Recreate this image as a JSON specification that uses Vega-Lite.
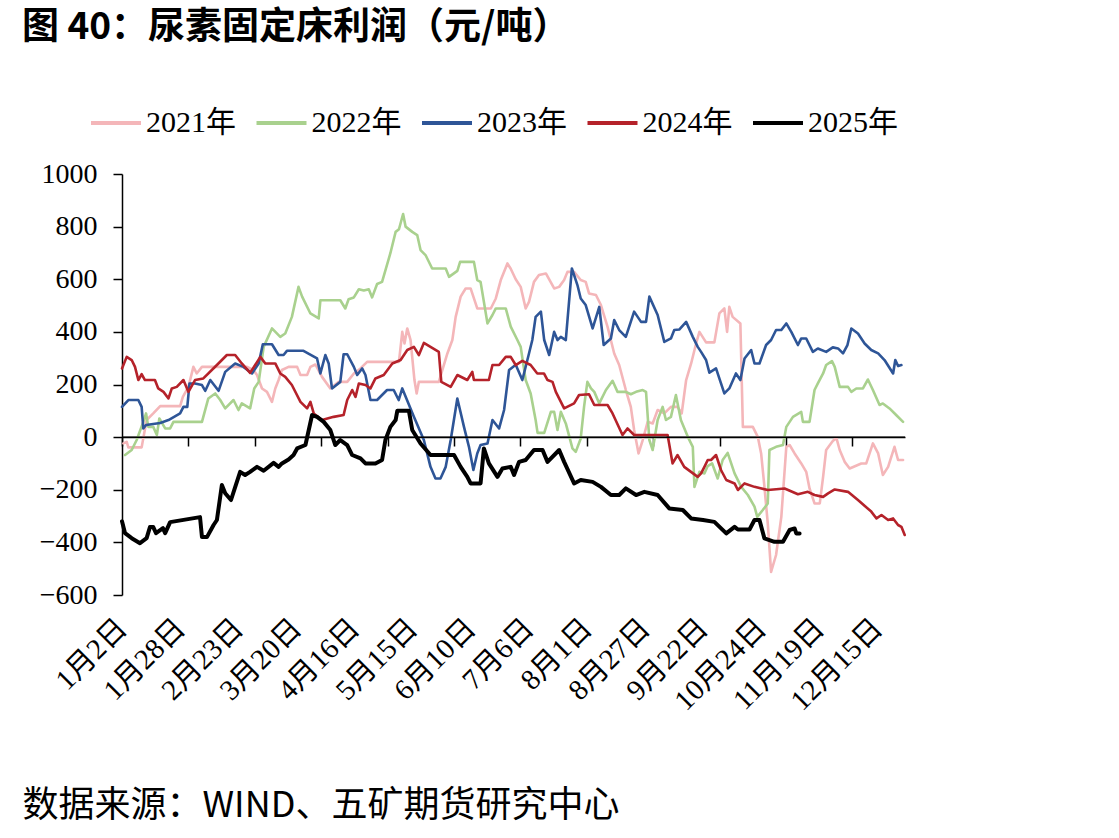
{
"$schema": "https://vega.github.io/schema/vega-lite/v6.json",
"autosize": {"type": "none"},
"width": 783, "height": 421,
"padding": {"left": 122, "top": 174, "right": 214, "bottom": 243},
"background": "white",
"title": {"text": "图 40：尿素固定床利润（元/吨）", "anchor": "start", "frame": "group", "font": "Noto Sans CJK SC", "fontSize": 37, "fontWeight": "bold", "color": "black", "dx": -100, "offset": 20, "baseline": "alphabetic"},
"datasets": {
"d": [
{"s":"2021年","d":0.5,"v":-24},{"s":"2021年","d":1.7,"v":-18},{"s":"2021年","d":2.3,"v":-39},{"s":"2021年","d":7.1,"v":-39},{"s":"2021年","d":8.9,"v":65},{"s":"2021年","d":11.3,"v":90},{"s":"2021年","d":13.8,"v":118},{"s":"2021年","d":21.0,"v":118},{"s":"2021年","d":22.0,"v":153},{"s":"2021年","d":24.0,"v":191},{"s":"2021年","d":25.8,"v":267},{"s":"2021年","d":27.0,"v":242},{"s":"2021年","d":28.9,"v":267},{"s":"2021年","d":45.2,"v":267},{"s":"2021年","d":47.5,"v":255},{"s":"2021年","d":48.8,"v":236},{"s":"2021年","d":50.6,"v":185},{"s":"2021年","d":52.4,"v":172},{"s":"2021年","d":54.2,"v":134},{"s":"2021年","d":55.4,"v":185},{"s":"2021年","d":56.6,"v":217},{"s":"2021年","d":57.8,"v":255},{"s":"2021年","d":60.2,"v":267},{"s":"2021年","d":63.3,"v":267},{"s":"2021年","d":64.5,"v":236},{"s":"2021年","d":66.9,"v":236},{"s":"2021年","d":68.1,"v":267},{"s":"2021年","d":69.9,"v":276},{"s":"2021年","d":72.3,"v":229},{"s":"2021年","d":75.3,"v":185},{"s":"2021年","d":78.3,"v":210},{"s":"2021年","d":81.4,"v":210},{"s":"2021年","d":83.8,"v":242},{"s":"2021年","d":86.2,"v":261},{"s":"2021年","d":88.6,"v":286},{"s":"2021年","d":100.1,"v":286},{"s":"2021年","d":101.3,"v":400},{"s":"2021年","d":102.1,"v":356},{"s":"2021年","d":103.1,"v":413},{"s":"2021年","d":104.3,"v":369},{"s":"2021年","d":105.7,"v":217},{"s":"2021年","d":106.5,"v":166},{"s":"2021年","d":107.3,"v":210},{"s":"2021年","d":114.5,"v":210},{"s":"2021年","d":117.6,"v":318},{"s":"2021年","d":119.4,"v":369},{"s":"2021年","d":120.6,"v":457},{"s":"2021年","d":122.4,"v":534},{"s":"2021年","d":124.2,"v":565},{"s":"2021年","d":126.0,"v":565},{"s":"2021年","d":128.4,"v":489},{"s":"2021年","d":133.3,"v":489},{"s":"2021年","d":135.1,"v":527},{"s":"2021年","d":136.9,"v":597},{"s":"2021年","d":139.3,"v":660},{"s":"2021年","d":140.5,"v":640},{"s":"2021年","d":142.3,"v":600},{"s":"2021年","d":144.1,"v":571},{"s":"2021年","d":145.9,"v":489},{"s":"2021年","d":147.1,"v":514},{"s":"2021年","d":148.9,"v":590},{"s":"2021年","d":150.7,"v":616},{"s":"2021年","d":153.2,"v":622},{"s":"2021年","d":156.2,"v":565},{"s":"2021年","d":158.0,"v":571},{"s":"2021年","d":159.8,"v":597},{"s":"2021年","d":161.0,"v":628},{"s":"2021年","d":163.4,"v":628},{"s":"2021年","d":165.8,"v":597},{"s":"2021年","d":167.6,"v":590},{"s":"2021年","d":168.8,"v":546},{"s":"2021年","d":171.3,"v":540},{"s":"2021年","d":173.1,"v":502},{"s":"2021年","d":175.5,"v":419},{"s":"2021年","d":177.9,"v":318},{"s":"2021年","d":179.7,"v":274},{"s":"2021年","d":182.1,"v":179},{"s":"2021年","d":183.9,"v":115},{"s":"2021年","d":185.1,"v":27},{"s":"2021年","d":186.7,"v":-62},{"s":"2021年","d":188.2,"v":-11},{"s":"2021年","d":190.0,"v":58},{"s":"2021年","d":191.8,"v":52},{"s":"2021年","d":193.6,"v":103},{"s":"2021年","d":196.0,"v":90},{"s":"2021年","d":198.4,"v":115},{"s":"2021年","d":200.8,"v":115},{"s":"2021年","d":202.3,"v":90},{"s":"2021年","d":203.9,"v":217},{"s":"2021年","d":205.7,"v":280},{"s":"2021年","d":207.5,"v":356},{"s":"2021年","d":208.7,"v":400},{"s":"2021年","d":211.1,"v":360},{"s":"2021年","d":214.1,"v":360},{"s":"2021年","d":215.9,"v":470},{"s":"2021年","d":217.7,"v":489},{"s":"2021年","d":218.7,"v":400},{"s":"2021年","d":219.5,"v":495},{"s":"2021年","d":220.7,"v":457},{"s":"2021年","d":223.5,"v":432},{"s":"2021年","d":224.4,"v":39},{"s":"2021年","d":228.0,"v":39},{"s":"2021年","d":229.8,"v":1},{"s":"2021年","d":231.0,"v":-62},{"s":"2021年","d":232.2,"v":-189},{"s":"2021年","d":233.4,"v":-328},{"s":"2021年","d":234.6,"v":-512},{"s":"2021年","d":236.4,"v":-448},{"s":"2021年","d":238.3,"v":-303},{"s":"2021年","d":240.1,"v":-37},{"s":"2021年","d":241.3,"v":-30},{"s":"2021年","d":243.1,"v":-62},{"s":"2021年","d":245.5,"v":-100},{"s":"2021年","d":247.3,"v":-132},{"s":"2021年","d":248.5,"v":-195},{"s":"2021年","d":250.3,"v":-252},{"s":"2021年","d":252.2,"v":-252},{"s":"2021年","d":253.4,"v":-151},{"s":"2021年","d":254.5,"v":-49},{"s":"2021年","d":256.9,"v":-15},{"s":"2021年","d":258.2,"v":-3},{"s":"2021年","d":259.4,"v":-49},{"s":"2021年","d":261.2,"v":-94},{"s":"2021年","d":263.0,"v":-119},{"s":"2021年","d":267.2,"v":-100},{"s":"2021年","d":269.0,"v":-100},{"s":"2021年","d":271.4,"v":-24},{"s":"2021年","d":273.3,"v":-62},{"s":"2021年","d":275.0,"v":-144},{"s":"2021年","d":276.9,"v":-113},{"s":"2021年","d":279.2,"v":-37},{"s":"2021年","d":280.5,"v":-87},{"s":"2021年","d":282.3,"v":-87},
{"s":"2022年","d":1.1,"v":-68},{"s":"2022年","d":3.5,"v":-49},{"s":"2022年","d":5.3,"v":-11},{"s":"2022年","d":7.7,"v":58},{"s":"2022年","d":8.7,"v":90},{"s":"2022年","d":9.5,"v":39},{"s":"2022年","d":11.3,"v":39},{"s":"2022年","d":12.6,"v":8},{"s":"2022年","d":13.5,"v":71},{"s":"2022年","d":15.6,"v":33},{"s":"2022年","d":17.4,"v":33},{"s":"2022年","d":18.6,"v":58},{"s":"2022年","d":28.9,"v":58},{"s":"2022年","d":31.2,"v":147},{"s":"2022年","d":33.7,"v":166},{"s":"2022年","d":35.5,"v":141},{"s":"2022年","d":37.3,"v":109},{"s":"2022年","d":40.3,"v":141},{"s":"2022年","d":42.1,"v":103},{"s":"2022年","d":43.3,"v":128},{"s":"2022年","d":46.3,"v":109},{"s":"2022年","d":47.8,"v":185},{"s":"2022年","d":49.4,"v":210},{"s":"2022年","d":51.2,"v":343},{"s":"2022年","d":54.2,"v":413},{"s":"2022年","d":57.2,"v":381},{"s":"2022年","d":59.0,"v":394},{"s":"2022年","d":61.4,"v":457},{"s":"2022年","d":63.8,"v":571},{"s":"2022年","d":65.1,"v":534},{"s":"2022年","d":68.1,"v":470},{"s":"2022年","d":71.1,"v":451},{"s":"2022年","d":71.7,"v":520},{"s":"2022年","d":78.9,"v":520},{"s":"2022年","d":80.7,"v":489},{"s":"2022年","d":81.9,"v":524},{"s":"2022年","d":83.8,"v":531},{"s":"2022年","d":85.6,"v":562},{"s":"2022年","d":87.4,"v":557},{"s":"2022年","d":89.2,"v":562},{"s":"2022年","d":90.4,"v":531},{"s":"2022年","d":92.2,"v":582},{"s":"2022年","d":94.0,"v":590},{"s":"2022年","d":97.0,"v":699},{"s":"2022年","d":98.9,"v":780},{"s":"2022年","d":100.1,"v":790},{"s":"2022年","d":101.6,"v":848},{"s":"2022年","d":102.5,"v":800},{"s":"2022年","d":104.9,"v":780},{"s":"2022年","d":106.7,"v":768},{"s":"2022年","d":107.9,"v":711},{"s":"2022年","d":109.7,"v":692},{"s":"2022年","d":112.1,"v":641},{"s":"2022年","d":117.0,"v":641},{"s":"2022年","d":118.2,"v":609},{"s":"2022年","d":121.2,"v":632},{"s":"2022年","d":122.2,"v":666},{"s":"2022年","d":127.2,"v":666},{"s":"2022年","d":128.4,"v":597},{"s":"2022年","d":129.6,"v":590},{"s":"2022年","d":132.1,"v":432},{"s":"2022年","d":133.9,"v":464},{"s":"2022年","d":135.1,"v":489},{"s":"2022年","d":138.7,"v":489},{"s":"2022年","d":140.5,"v":420},{"s":"2022年","d":142.9,"v":369},{"s":"2022年","d":144.1,"v":343},{"s":"2022年","d":145.9,"v":217},{"s":"2022年","d":147.7,"v":166},{"s":"2022年","d":149.5,"v":65},{"s":"2022年","d":150.2,"v":16},{"s":"2022年","d":152.6,"v":16},{"s":"2022年","d":155.0,"v":96},{"s":"2022年","d":156.2,"v":96},{"s":"2022年","d":157.4,"v":27},{"s":"2022年","d":158.6,"v":96},{"s":"2022年","d":160.4,"v":52},{"s":"2022年","d":162.8,"v":-43},{"s":"2022年","d":164.0,"v":-56},{"s":"2022年","d":165.8,"v":-5},{"s":"2022年","d":167.0,"v":115},{"s":"2022年","d":168.2,"v":210},{"s":"2022年","d":169.5,"v":185},{"s":"2022年","d":170.7,"v":172},{"s":"2022年","d":172.5,"v":128},{"s":"2022年","d":174.9,"v":179},{"s":"2022年","d":177.3,"v":214},{"s":"2022年","d":179.1,"v":172},{"s":"2022年","d":182.1,"v":172},{"s":"2022年","d":183.9,"v":163},{"s":"2022年","d":185.8,"v":172},{"s":"2022年","d":188.2,"v":179},{"s":"2022年","d":189.4,"v":172},{"s":"2022年","d":190.6,"v":-11},{"s":"2022年","d":191.8,"v":-49},{"s":"2022年","d":193.6,"v":65},{"s":"2022年","d":195.4,"v":115},{"s":"2022年","d":196.6,"v":65},{"s":"2022年","d":198.4,"v":77},{"s":"2022年","d":200.2,"v":160},{"s":"2022年","d":202.0,"v":65},{"s":"2022年","d":204.5,"v":1},{"s":"2022年","d":206.3,"v":-37},{"s":"2022年","d":206.9,"v":-189},{"s":"2022年","d":208.7,"v":-132},{"s":"2022年","d":210.5,"v":-138},{"s":"2022年","d":211.7,"v":-110},{"s":"2022年","d":213.3,"v":-100},{"s":"2022年","d":215.3,"v":-157},{"s":"2022年","d":217.1,"v":-87},{"s":"2022年","d":218.9,"v":-60},{"s":"2022年","d":221.4,"v":-138},{"s":"2022年","d":223.8,"v":-189},{"s":"2022年","d":226.2,"v":-220},{"s":"2022年","d":228.6,"v":-264},{"s":"2022年","d":229.6,"v":-303},{"s":"2022年","d":231.6,"v":-277},{"s":"2022年","d":233.4,"v":-252},{"s":"2022年","d":234.0,"v":-49},{"s":"2022年","d":236.4,"v":-37},{"s":"2022年","d":238.9,"v":-30},{"s":"2022年","d":240.1,"v":39},{"s":"2022年","d":241.3,"v":58},{"s":"2022年","d":242.5,"v":77},{"s":"2022年","d":245.5,"v":96},{"s":"2022年","d":246.1,"v":58},{"s":"2022年","d":248.5,"v":58},{"s":"2022年","d":250.3,"v":179},{"s":"2022年","d":251.5,"v":204},{"s":"2022年","d":253.4,"v":242},{"s":"2022年","d":254.5,"v":274},{"s":"2022年","d":256.6,"v":289},{"s":"2022年","d":257.6,"v":267},{"s":"2022年","d":259.4,"v":191},{"s":"2022年","d":262.4,"v":191},{"s":"2022年","d":263.6,"v":172},{"s":"2022年","d":265.4,"v":185},{"s":"2022年","d":267.8,"v":185},{"s":"2022年","d":269.6,"v":219},{"s":"2022年","d":271.4,"v":179},{"s":"2022年","d":273.8,"v":122},{"s":"2022年","d":275.0,"v":128},{"s":"2022年","d":277.4,"v":109},{"s":"2022年","d":279.8,"v":84},{"s":"2022年","d":282.3,"v":58},
{"s":"2023年","d":0,"v":115},{"s":"2023年","d":2.3,"v":141},{"s":"2023年","d":5.9,"v":141},{"s":"2023年","d":7.1,"v":115},{"s":"2023年","d":7.7,"v":33},{"s":"2023年","d":8.7,"v":46},{"s":"2023年","d":13.8,"v":54},{"s":"2023年","d":16.8,"v":65},{"s":"2023年","d":21.0,"v":90},{"s":"2023年","d":22.2,"v":115},{"s":"2023年","d":23.6,"v":115},{"s":"2023年","d":24.4,"v":204},{"s":"2023年","d":26.4,"v":204},{"s":"2023年","d":28.9,"v":198},{"s":"2023年","d":30.1,"v":176},{"s":"2023年","d":31.9,"v":217},{"s":"2023年","d":34.9,"v":176},{"s":"2023年","d":37.3,"v":248},{"s":"2023年","d":40.9,"v":280},{"s":"2023年","d":43.9,"v":267},{"s":"2023年","d":47.0,"v":242},{"s":"2023年","d":49.4,"v":280},{"s":"2023年","d":50.9,"v":353},{"s":"2023年","d":54.2,"v":353},{"s":"2023年","d":56.6,"v":312},{"s":"2023年","d":58.4,"v":312},{"s":"2023年","d":59.6,"v":328},{"s":"2023年","d":65.6,"v":328},{"s":"2023年","d":68.7,"v":310},{"s":"2023年","d":70.5,"v":299},{"s":"2023年","d":71.7,"v":242},{"s":"2023年","d":73.5,"v":312},{"s":"2023年","d":74.7,"v":280},{"s":"2023年","d":75.9,"v":185},{"s":"2023年","d":78.9,"v":210},{"s":"2023年","d":80.1,"v":315},{"s":"2023年","d":81.4,"v":315},{"s":"2023年","d":83.8,"v":267},{"s":"2023年","d":85.0,"v":236},{"s":"2023年","d":86.8,"v":261},{"s":"2023年","d":88.0,"v":236},{"s":"2023年","d":89.8,"v":141},{"s":"2023年","d":92.2,"v":141},{"s":"2023年","d":95.8,"v":179},{"s":"2023年","d":98.2,"v":179},{"s":"2023年","d":100.0,"v":141},{"s":"2023年","d":101.3,"v":185},{"s":"2023年","d":105.5,"v":77},{"s":"2023年","d":109.1,"v":-11},{"s":"2023年","d":111.5,"v":-113},{"s":"2023年","d":113.3,"v":-157},{"s":"2023年","d":115.1,"v":-157},{"s":"2023年","d":117.0,"v":-113},{"s":"2023年","d":118.8,"v":-11},{"s":"2023年","d":121.2,"v":147},{"s":"2023年","d":123.6,"v":39},{"s":"2023年","d":125.4,"v":-37},{"s":"2023年","d":127.0,"v":-125},{"s":"2023年","d":128.4,"v":-62},{"s":"2023年","d":129.6,"v":-30},{"s":"2023年","d":132.1,"v":-24},{"s":"2023年","d":133.9,"v":65},{"s":"2023年","d":136.3,"v":33},{"s":"2023年","d":138.1,"v":103},{"s":"2023年","d":139.9,"v":255},{"s":"2023年","d":140.5,"v":260},{"s":"2023年","d":142.3,"v":275},{"s":"2023年","d":144.7,"v":217},{"s":"2023年","d":147.1,"v":318},{"s":"2023年","d":148.3,"v":369},{"s":"2023年","d":149.5,"v":457},{"s":"2023年","d":151.4,"v":477},{"s":"2023年","d":152.6,"v":369},{"s":"2023年","d":154.4,"v":312},{"s":"2023年","d":156.2,"v":400},{"s":"2023年","d":157.4,"v":369},{"s":"2023年","d":158.6,"v":381},{"s":"2023年","d":160.4,"v":369},{"s":"2023年","d":162.6,"v":641},{"s":"2023年","d":164.6,"v":578},{"s":"2023年","d":165.8,"v":527},{"s":"2023年","d":167.6,"v":502},{"s":"2023年","d":170.1,"v":413},{"s":"2023年","d":172.5,"v":495},{"s":"2023年","d":174.1,"v":350},{"s":"2023年","d":176.7,"v":375},{"s":"2023年","d":177.9,"v":445},{"s":"2023年","d":179.7,"v":407},{"s":"2023年","d":182.1,"v":381},{"s":"2023年","d":185.1,"v":477},{"s":"2023年","d":187.6,"v":438},{"s":"2023年","d":189.4,"v":438},{"s":"2023年","d":190.6,"v":534},{"s":"2023年","d":193.6,"v":464},{"s":"2023年","d":196.0,"v":362},{"s":"2023年","d":198.4,"v":375},{"s":"2023年","d":199.6,"v":407},{"s":"2023年","d":201.4,"v":409},{"s":"2023年","d":203.9,"v":438},{"s":"2023年","d":206.3,"v":381},{"s":"2023年","d":208.1,"v":343},{"s":"2023年","d":209.3,"v":324},{"s":"2023年","d":211.1,"v":293},{"s":"2023年","d":212.3,"v":245},{"s":"2023年","d":214.7,"v":261},{"s":"2023年","d":216.5,"v":204},{"s":"2023年","d":217.7,"v":166},{"s":"2023年","d":219.5,"v":185},{"s":"2023年","d":221.9,"v":242},{"s":"2023年","d":223.5,"v":217},{"s":"2023年","d":225.0,"v":299},{"s":"2023年","d":227.4,"v":331},{"s":"2023年","d":228.6,"v":280},{"s":"2023年","d":230.4,"v":280},{"s":"2023年","d":232.8,"v":350},{"s":"2023年","d":234.6,"v":369},{"s":"2023年","d":236.4,"v":407},{"s":"2023年","d":238.3,"v":407},{"s":"2023年","d":240.1,"v":432},{"s":"2023年","d":241.9,"v":400},{"s":"2023年","d":244.3,"v":350},{"s":"2023年","d":245.5,"v":375},{"s":"2023年","d":247.3,"v":375},{"s":"2023年","d":249.7,"v":324},{"s":"2023年","d":251.5,"v":337},{"s":"2023年","d":254.5,"v":324},{"s":"2023年","d":256.9,"v":341},{"s":"2023年","d":258.8,"v":337},{"s":"2023年","d":260.6,"v":318},{"s":"2023年","d":262.2,"v":350},{"s":"2023年","d":263.6,"v":413},{"s":"2023年","d":266.0,"v":394},{"s":"2023年","d":268.4,"v":356},{"s":"2023年","d":270.8,"v":331},{"s":"2023年","d":273.3,"v":318},{"s":"2023年","d":275.6,"v":293},{"s":"2023年","d":278.7,"v":242},{"s":"2023年","d":279.5,"v":293},{"s":"2023年","d":280.5,"v":270},{"s":"2023年","d":281.7,"v":274},
{"s":"2024年","d":0,"v":261},{"s":"2024年","d":1.7,"v":305},{"s":"2024年","d":3.5,"v":293},{"s":"2024年","d":4.7,"v":267},{"s":"2024年","d":5.9,"v":217},{"s":"2024年","d":7.1,"v":239},{"s":"2024年","d":8.3,"v":217},{"s":"2024年","d":11.9,"v":217},{"s":"2024年","d":13.1,"v":185},{"s":"2024年","d":15.0,"v":172},{"s":"2024年","d":16.8,"v":147},{"s":"2024年","d":18.0,"v":185},{"s":"2024年","d":19.8,"v":191},{"s":"2024年","d":22.2,"v":217},{"s":"2024年","d":24.0,"v":172},{"s":"2024年","d":26.4,"v":217},{"s":"2024年","d":29.4,"v":223},{"s":"2024年","d":34.3,"v":274},{"s":"2024年","d":37.9,"v":312},{"s":"2024年","d":40.9,"v":312},{"s":"2024年","d":43.3,"v":280},{"s":"2024年","d":46.3,"v":244},{"s":"2024年","d":50.0,"v":305},{"s":"2024年","d":51.8,"v":280},{"s":"2024年","d":55.4,"v":280},{"s":"2024年","d":57.2,"v":242},{"s":"2024年","d":59.0,"v":229},{"s":"2024年","d":61.4,"v":198},{"s":"2024年","d":64.5,"v":134},{"s":"2024年","d":66.9,"v":109},{"s":"2024年","d":68.1,"v":134},{"s":"2024年","d":69.3,"v":90},{"s":"2024年","d":72.3,"v":65},{"s":"2024年","d":76.5,"v":77},{"s":"2024年","d":80.1,"v":84},{"s":"2024年","d":81.4,"v":141},{"s":"2024年","d":83.2,"v":179},{"s":"2024年","d":84.4,"v":153},{"s":"2024年","d":85.6,"v":204},{"s":"2024年","d":88.0,"v":198},{"s":"2024年","d":89.8,"v":185},{"s":"2024年","d":91.6,"v":223},{"s":"2024年","d":94.6,"v":236},{"s":"2024年","d":97.7,"v":280},{"s":"2024年","d":100.7,"v":293},{"s":"2024年","d":103.1,"v":331},{"s":"2024年","d":105.5,"v":343},{"s":"2024年","d":107.3,"v":312},{"s":"2024年","d":109.1,"v":358},{"s":"2024年","d":111.5,"v":343},{"s":"2024年","d":114.5,"v":324},{"s":"2024年","d":115.4,"v":210},{"s":"2024年","d":118.8,"v":191},{"s":"2024年","d":121.2,"v":236},{"s":"2024年","d":124.8,"v":217},{"s":"2024年","d":126.6,"v":248},{"s":"2024年","d":127.2,"v":217},{"s":"2024年","d":132.6,"v":217},{"s":"2024年","d":133.9,"v":274},{"s":"2024年","d":136.3,"v":274},{"s":"2024年","d":138.7,"v":305},{"s":"2024年","d":140.5,"v":305},{"s":"2024年","d":142.3,"v":274},{"s":"2024年","d":144.7,"v":290},{"s":"2024年","d":147.7,"v":274},{"s":"2024年","d":150.1,"v":242},{"s":"2024年","d":152.5,"v":242},{"s":"2024年","d":153.8,"v":217},{"s":"2024年","d":155.6,"v":210},{"s":"2024年","d":156.8,"v":172},{"s":"2024年","d":159.8,"v":109},{"s":"2024年","d":163.4,"v":128},{"s":"2024年","d":165.2,"v":160},{"s":"2024年","d":168.8,"v":163},{"s":"2024年","d":170.7,"v":122},{"s":"2024年","d":175.5,"v":122},{"s":"2024年","d":177.3,"v":90},{"s":"2024年","d":180.9,"v":8},{"s":"2024年","d":182.7,"v":33},{"s":"2024年","d":185.1,"v":8},{"s":"2024年","d":197.2,"v":8},{"s":"2024年","d":199.0,"v":-100},{"s":"2024年","d":200.8,"v":-68},{"s":"2024年","d":203.2,"v":-113},{"s":"2024年","d":208.1,"v":-151},{"s":"2024年","d":209.3,"v":-138},{"s":"2024年","d":210.5,"v":-113},{"s":"2024年","d":211.7,"v":-87},{"s":"2024年","d":212.9,"v":-87},{"s":"2024年","d":214.7,"v":-68},{"s":"2024年","d":216.5,"v":-125},{"s":"2024年","d":218.4,"v":-163},{"s":"2024年","d":221.4,"v":-176},{"s":"2024年","d":222.6,"v":-201},{"s":"2024年","d":225.0,"v":-176},{"s":"2024年","d":228.6,"v":-189},{"s":"2024年","d":233.4,"v":-201},{"s":"2024年","d":239.5,"v":-195},{"s":"2024年","d":244.3,"v":-217},{"s":"2024年","d":247.9,"v":-208},{"s":"2024年","d":250.3,"v":-220},{"s":"2024年","d":253.4,"v":-227},{"s":"2024年","d":255.2,"v":-214},{"s":"2024年","d":257.6,"v":-199},{"s":"2024年","d":262.4,"v":-208},{"s":"2024年","d":266.0,"v":-239},{"s":"2024年","d":270.8,"v":-283},{"s":"2024年","d":272.7,"v":-309},{"s":"2024年","d":274.5,"v":-296},{"s":"2024年","d":276.9,"v":-315},{"s":"2024年","d":278.7,"v":-309},{"s":"2024年","d":280.5,"v":-334},{"s":"2024年","d":281.7,"v":-341},{"s":"2024年","d":282.9,"v":-372},
{"s":"2025年","d":0,"v":-320},{"s":"2025年","d":1.1,"v":-365},{"s":"2025年","d":3.5,"v":-384},{"s":"2025年","d":6.5,"v":-403},{"s":"2025年","d":8.9,"v":-384},{"s":"2025年","d":10.1,"v":-342},{"s":"2025年","d":11.3,"v":-342},{"s":"2025年","d":12.3,"v":-365},{"s":"2025年","d":14.8,"v":-346},{"s":"2025年","d":15.6,"v":-365},{"s":"2025年","d":17.4,"v":-323},{"s":"2025年","d":28.2,"v":-304},{"s":"2025年","d":28.9,"v":-380},{"s":"2025年","d":30.7,"v":-380},{"s":"2025年","d":33.1,"v":-334},{"s":"2025年","d":34.3,"v":-315},{"s":"2025年","d":36.1,"v":-182},{"s":"2025年","d":37.3,"v":-213},{"s":"2025年","d":39.4,"v":-239},{"s":"2025年","d":40.9,"v":-190},{"s":"2025年","d":42.7,"v":-132},{"s":"2025年","d":44.5,"v":-144},{"s":"2025年","d":46.3,"v":-132},{"s":"2025年","d":48.8,"v":-113},{"s":"2025年","d":51.2,"v":-128},{"s":"2025年","d":54.8,"v":-98},{"s":"2025年","d":56.6,"v":-113},{"s":"2025年","d":57.8,"v":-100},{"s":"2025年","d":60.2,"v":-85},{"s":"2025年","d":62.0,"v":-68},{"s":"2025年","d":63.3,"v":-43},{"s":"2025年","d":66.3,"v":-30},{"s":"2025年","d":68.7,"v":84},{"s":"2025年","d":70.5,"v":77},{"s":"2025年","d":72.9,"v":58},{"s":"2025年","d":75.3,"v":27},{"s":"2025年","d":77.1,"v":-30},{"s":"2025年","d":78.9,"v":-11},{"s":"2025年","d":81.4,"v":-30},{"s":"2025年","d":83.2,"v":-68},{"s":"2025年","d":86.2,"v":-81},{"s":"2025年","d":88.0,"v":-100},{"s":"2025年","d":91.6,"v":-100},{"s":"2025年","d":94.0,"v":-87},{"s":"2025年","d":95.2,"v":-11},{"s":"2025年","d":97.0,"v":39},{"s":"2025年","d":98.9,"v":65},{"s":"2025年","d":99.5,"v":100},{"s":"2025年","d":103.7,"v":100},{"s":"2025年","d":104.9,"v":27},{"s":"2025年","d":107.9,"v":-24},{"s":"2025年","d":111.5,"v":-68},{"s":"2025年","d":120.0,"v":-68},{"s":"2025年","d":122.4,"v":-113},{"s":"2025年","d":124.8,"v":-151},{"s":"2025年","d":126.0,"v":-176},{"s":"2025年","d":129.6,"v":-176},{"s":"2025年","d":130.8,"v":-43},{"s":"2025年","d":132.6,"v":-100},{"s":"2025年","d":135.7,"v":-151},{"s":"2025年","d":137.5,"v":-119},{"s":"2025年","d":140.5,"v":-113},{"s":"2025年","d":141.7,"v":-144},{"s":"2025年","d":143.5,"v":-94},{"s":"2025年","d":145.9,"v":-87},{"s":"2025年","d":148.9,"v":-49},{"s":"2025年","d":152.0,"v":-49},{"s":"2025年","d":153.8,"v":-94},{"s":"2025年","d":158.0,"v":-49},{"s":"2025年","d":159.8,"v":-94},{"s":"2025年","d":163.4,"v":-176},{"s":"2025年","d":165.8,"v":-163},{"s":"2025年","d":170.1,"v":-170},{"s":"2025年","d":173.1,"v":-189},{"s":"2025年","d":176.7,"v":-220},{"s":"2025年","d":179.7,"v":-220},{"s":"2025年","d":182.1,"v":-195},{"s":"2025年","d":185.8,"v":-220},{"s":"2025年","d":188.8,"v":-208},{"s":"2025年","d":193.6,"v":-220},{"s":"2025年","d":197.8,"v":-271},{"s":"2025年","d":202.7,"v":-277},{"s":"2025年","d":205.7,"v":-309},{"s":"2025年","d":210.0,"v":-315},{"s":"2025年","d":214.1,"v":-322},{"s":"2025年","d":218.4,"v":-366},{"s":"2025年","d":221.4,"v":-341},{"s":"2025年","d":222.6,"v":-351},{"s":"2025年","d":226.8,"v":-351},{"s":"2025年","d":228.6,"v":-315},{"s":"2025年","d":230.4,"v":-315},{"s":"2025年","d":232.2,"v":-385},{"s":"2025年","d":235.8,"v":-398},{"s":"2025年","d":238.9,"v":-398},{"s":"2025年","d":241.3,"v":-353},{"s":"2025年","d":243.1,"v":-347},{"s":"2025年","d":243.7,"v":-366},{"s":"2025年","d":244.9,"v":-366}
]
},
"layer": [
{
"data": {"name": "d"},
"transform": [{"filter": "datum.s !== '2025年'"}],
"mark": {"type": "line", "strokeJoin": "round", "strokeCap": "round", "strokeWidth": 2.6},
"encoding": {
"x": {"field": "d", "type": "quantitative", "scale": {"domain": [0, 283], "nice": false, "zero": false},
 "axis": {"orient": "bottom", "values": [0,21,42,63,84,105,126,147,168,189,210,231,252,273],
  "labelExpr": "['1月2日','1月28日','2月23日','3月20日','4月16日','5月15日','6月10日','7月6日','8月1日','8月27日','9月22日','10月24日','11月19日','12月15日'][round(datum.value/21)]",
  "domain": false, "ticks": false, "tickSize": 0, "grid": false,
  "labelAngle": -45, "labelAlign": "right", "labelBaseline": "middle", "labelPadding": 28, "labelDx": 2,
  "labelFont": "Liberation Serif, Noto Sans CJK SC", "labelFontSize": 29, "labelColor": "black", "labelOverlap": false, "labelBound": false, "labelFlush": false,
  "title": "数据来源：WIND、五矿期货研究中心", "titleFont": "Noto Sans CJK SC", "titleFontSize": 36, "titleFontWeight": "normal", "titleColor": "black",
  "titleAlign": "left", "titleAnchor": "start", "titleAngle": 0, "titleBaseline": "alphabetic", "titleX": -100, "titleY": 221}},
"y": {"field": "v", "type": "quantitative", "scale": {"domain": [-600, 1000], "nice": false, "zero": false},
 "axis": {"values": [-600,-400,-200,0,200,400,600,800,1000], "format": "d", "domain": true, "domainColor": "black", "domainWidth": 1.5,
  "ticks": true, "tickColor": "black", "tickWidth": 1.5, "tickSize": 9, "labelPadding": 16, "grid": false,
  "labelFont": "Liberation Serif", "labelFontSize": 28, "labelColor": "black", "title": null}},
"color": {"field": "s", "type": "nominal",
 "scale": {"domain": ["2021年","2022年","2023年","2024年","2025年"], "range": ["#F4B6B9","#A9D18E","#2E5597","#B5222A","#000000"]},
 "legend": {"orient": "none", "legendX": -33, "legendY": -78, "direction": "horizontal", "columns": 5, "title": null,
  "symbolType": "stroke", "symbolSize": 2500, "symbolStrokeWidth": 4, "labelFont": "Liberation Serif, Noto Sans CJK SC", "labelFontSize": 30,
  "labelColor": "black", "labelOffset": 3, "columnPadding": 12.5, "padding": 0, "labelLimit": 0}}
}
},
{
"data": {"name": "d"},
"transform": [{"filter": "datum.s === '2025年'"}],
"mark": {"type": "line", "strokeJoin": "round", "strokeCap": "round", "strokeWidth": 4},
"encoding": {
"x": {"field": "d", "type": "quantitative", "axis": null},
"y": {"field": "v", "type": "quantitative"},
"color": {"field": "s", "type": "nominal"}
}
},
{
"data": {"values": [{}]},
"mark": {"type": "rule", "color": "black", "strokeWidth": 1.5},
"encoding": {
"x": {"datum": 0, "type": "quantitative",
 "axis": {"orient": "bottom", "values": [0,24,48,72,96,120,144,168,192,216,240,264], "offset": -158, "domain": true, "domainColor": "black", "domainWidth": 1.5,
  "ticks": true, "tickColor": "black", "tickWidth": 1.5, "tickSize": 9, "labels": false, "title": null, "grid": false}},
"x2": {"datum": 283},
"y": {"datum": 0, "type": "quantitative"}
}
}
],
"resolve": {"axis": {"x": "independent"}},
"config": {"view": {"stroke": null}, "font": "Liberation Serif"}
}
